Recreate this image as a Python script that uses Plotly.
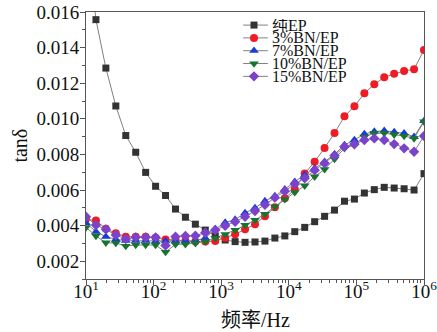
import plotly.graph_objects as go

# ---------------- data ----------------
freq_hz = [10, 14.03, 19.68, 27.62, 38.75, 54.37, 76.28, 107.0, 150.2, 210.7,
           295.6, 414.8, 581.9, 816.4, 1145.5, 1607, 2255, 3162, 4437, 6225,
           8734, 12254, 17193, 24122, 33844, 47484, 66622, 93470, 131140,
           183990, 258140, 362180, 508140, 712930, 1000000]

pure_ep = [0.0205, 0.01557, 0.01285, 0.01072, 0.00906, 0.00812, 0.00699, 0.00621,
           0.00569, 0.00493, 0.00447, 0.00408, 0.00375, 0.00343, 0.00319, 0.00310,
           0.00306, 0.00308, 0.00313, 0.00330, 0.00342, 0.00366, 0.00390, 0.00422,
           0.00452, 0.00487, 0.00537, 0.00549, 0.00583, 0.00602, 0.00615, 0.00611,
           0.00607, 0.00600, 0.00692]

bn3 = [0.00437, 0.00428, 0.00383, 0.00357, 0.00338, 0.00338, 0.00338, 0.00332,
       0.00322, 0.00319, 0.00313, 0.00310, 0.00310, 0.00313, 0.00332, 0.00351,
       0.00379, 0.00408, 0.00452, 0.00503, 0.00553, 0.00604, 0.00692, 0.00759,
       0.00836, 0.00920, 0.01014, 0.01070, 0.01143, 0.01194, 0.01233, 0.01253,
       0.01269, 0.01278, 0.01387]

bn7 = [0.00415, 0.00366, 0.00338, 0.00323, 0.00315, 0.00315, 0.00315, 0.00311,
       0.00313, 0.00313, 0.00313, 0.00316, 0.00330, 0.00381, 0.00417, 0.00434,
       0.00471, 0.00499, 0.00538, 0.00566, 0.00604, 0.00647, 0.00684, 0.00722,
       0.00759, 0.00801, 0.00853, 0.00881, 0.00915, 0.00928, 0.00933, 0.00926,
       0.00919, 0.00899, 0.00988]

bn10 = [0.00390, 0.00342, 0.00304, 0.00302, 0.00285, 0.00291, 0.00291, 0.00291,
        0.00251, 0.00295, 0.00295, 0.00301, 0.00310, 0.00330, 0.00351, 0.00375,
        0.00403, 0.00431, 0.00465, 0.00506, 0.00548, 0.00587, 0.00624, 0.00675,
        0.00716, 0.00774, 0.00834, 0.00853, 0.00899, 0.00919, 0.00919, 0.00911,
        0.00903, 0.00890, 0.00984]

bn15 = [0.00450, 0.00403, 0.00379, 0.00347, 0.00325, 0.00334, 0.00334, 0.00334,
        0.00288, 0.00338, 0.00342, 0.00343, 0.00360, 0.00375, 0.00399, 0.00422,
        0.00450, 0.00482, 0.00517, 0.00557, 0.00593, 0.00634, 0.00666, 0.00711,
        0.00750, 0.00794, 0.00843, 0.00857, 0.00881, 0.00890, 0.00881, 0.00858,
        0.00834, 0.00815, 0.00903]

series_names = ["纯EP", "3%BN/EP", "7%BN/EP", "10%BN/EP", "15%BN/EP"]
series_values = [pure_ep, bn3, bn7, bn10, bn15]

x_tick_vals = [10, 100, 1000, 10000, 100000, 1000000]
x_tick_text = ["10<sup>1</sup>", "10<sup>2</sup>", "10<sup>3</sup>",
               "10<sup>4</sup>", "10<sup>5</sup>", "10<sup>6</sup>"]
y_tick_vals = [0.002, 0.004, 0.006, 0.008, 0.010, 0.012, 0.014, 0.016]
x_title = "频率/Hz"
y_title = "tanδ"

# ---------------- style ----------------
colors = ["#333333", "#ee1c24", "#1a3cd6", "#17742e", "#7b42cc"]
symbols = ["square", "circle", "triangle-up", "triangle-down", "diamond"]
sizes = [7, 8, 8.5, 8.5, 8]
FONT = "Liberation Serif, Times New Roman, Noto Sans CJK SC, serif"
AXIS_COL = "#555555"

fig = go.Figure()
for name, vals, c, s, sz in zip(series_names, series_values, colors, symbols, sizes):
    fig.add_trace(go.Scatter(
        x=freq_hz, y=vals, name=name, mode="lines+markers",
        line=dict(color="#808080", width=1),
        marker=dict(symbol=s, color=c, size=sz, line=dict(width=0)),
        showlegend=False, cliponaxis=True))

# custom compact legend (overlay axes in plot-fraction units)
leg_y = [0.951, 0.903, 0.855, 0.807, 0.759]
leg_x0, leg_xm, leg_x1, leg_xt = 0.465, 0.497, 0.538, 0.545
for name, c, s, sz, yy in zip(series_names, colors, symbols, sizes, leg_y):
    fig.add_shape(type="line", xref="paper", yref="paper",
                  x0=leg_x0, x1=leg_x1, y0=yy, y1=yy,
                  line=dict(color="#808080", width=1), layer="below")
    fig.add_trace(go.Scatter(
        x=[leg_xm], y=[yy], xaxis="x2", yaxis="y2", mode="markers",
        marker=dict(symbol=s, color=c, size=sz, line=dict(width=0)),
        showlegend=False, hoverinfo="skip"))
    fig.add_annotation(x=leg_xt, y=yy, xref="paper", yref="paper",
                       text=name, showarrow=False, xanchor="left", yanchor="middle",
                       height=13, valign="middle",
                       font=dict(family=FONT, size=16, color="#111111"))

# axis titles
fig.add_annotation(x=0.5, y=-0.152, xref="paper", yref="paper", text=x_title,
                   showarrow=False, xanchor="center", yanchor="middle",
                   font=dict(family=FONT, size=20, color="#111111"))
fig.add_annotation(x=-0.198, y=0.5, xref="paper", yref="paper", text=y_title,
                   showarrow=False, xanchor="center", yanchor="middle", textangle=-90,
                   font=dict(family=FONT, size=20, color="#111111"))

fig.update_layout(
    width=437, height=332,
    margin=dict(l=86, r=13, t=12, b=53, autoexpand=False),
    paper_bgcolor="white", plot_bgcolor="white",
    showlegend=False,
    font=dict(family=FONT, size=19, color="#111111"),
    xaxis=dict(type="log", range=[1, 6], tickvals=x_tick_vals, ticktext=x_tick_text,
               showgrid=False, zeroline=False, automargin=False,
               showline=True, linecolor=AXIS_COL, linewidth=1, mirror=True,
               ticks="outside", ticklen=5, tickcolor=AXIS_COL, tickwidth=1,
               ticklabelstandoff=-10, ticklabeloverflow="allow",
               minor=dict(ticks="outside", ticklen=3, tickcolor=AXIS_COL, dtick="D1"),
               tickfont=dict(family=FONT, size=19, color="#111111")),
    yaxis=dict(range=[0.001, 0.016], tickvals=y_tick_vals, tickformat=".3f",
               showgrid=False, zeroline=False, automargin=False,
               showline=True, linecolor=AXIS_COL, linewidth=1, mirror=True,
               ticks="outside", ticklen=5, tickcolor=AXIS_COL, tickwidth=1,
               ticklabelstandoff=-3, ticklabeloverflow="allow",
               minor=dict(ticks="outside", ticklen=3, tickcolor=AXIS_COL,
                          tickvals=[0.001, 0.003, 0.005, 0.007, 0.009, 0.011, 0.013, 0.015]),
               tickfont=dict(family=FONT, size=19, color="#111111")),
    xaxis2=dict(overlaying="x", range=[0, 1], visible=False, fixedrange=True,
                automargin=False),
    yaxis2=dict(overlaying="y", range=[0, 1], visible=False, fixedrange=True,
                automargin=False),
)

# remove the browser's default 8px body margin so the figure sits at the page origin
fig.write_html("out.html",
               config={"displayModeBar": False},
               post_script="document.body.style.margin='0';document.body.style.overflow='hidden';")
